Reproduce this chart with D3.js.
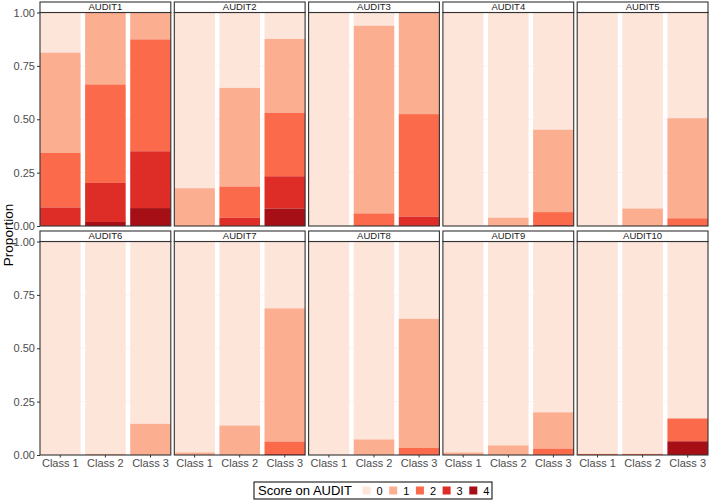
<!DOCTYPE html>
<html>
<head>
<meta charset="utf-8">
<script src="https://cdn.jsdelivr.net/npm/d3@7"></script>
<style>
  html, body { margin: 0; padding: 0; background: #fff; }
  svg { display: block; font-family: "Liberation Sans", Arial, sans-serif; }
</style>
</head>
<body>
<svg id="chart" width="709" height="502"></svg>
<script>
// ---- data ----
const items = ["AUDIT1","AUDIT2","AUDIT3","AUDIT4","AUDIT5","AUDIT6","AUDIT7","AUDIT8","AUDIT9","AUDIT10"];
const classes = ["Class 1","Class 2","Class 3"];
const scores = ["0","1","2","3","4"];
const scoreColors = ["#fee5d9","#fcae91","#fb6a4a","#de2d26","#a50f15"];
const yTicks = [0, 0.25, 0.5, 0.75, 1];
// proportions of scores 0..4 for Class 1, Class 2, Class 3
const audit1  = [[0.188,0.470,0.255,0.087,0.000],[0.000,0.337,0.461,0.183,0.019],[0.000,0.126,0.524,0.266,0.084]];
const audit2  = [[0.823,0.177,0.000,0.000,0.000],[0.353,0.462,0.146,0.039,0.000],[0.124,0.346,0.297,0.151,0.082]];
const audit3  = [[1.000,0.000,0.000,0.000,0.000],[0.062,0.879,0.059,0.000,0.000],[0.000,0.476,0.480,0.044,0.000]];
const audit4  = [[1.000,0.000,0.000,0.000,0.000],[0.961,0.039,0.000,0.000,0.000],[0.549,0.386,0.060,0.005,0.000]];
const audit5  = [[1.000,0.000,0.000,0.000,0.000],[0.918,0.082,0.000,0.000,0.000],[0.495,0.469,0.036,0.000,0.000]];
const audit6  = [[1.000,0.000,0.000,0.000,0.000],[0.995,0.005,0.000,0.000,0.000],[0.854,0.146,0.000,0.000,0.000]];
const audit7  = [[0.988,0.012,0.000,0.000,0.000],[0.862,0.138,0.000,0.000,0.000],[0.313,0.624,0.058,0.005,0.000]];
const audit8  = [[1.000,0.000,0.000,0.000,0.000],[0.927,0.073,0.000,0.000,0.000],[0.362,0.604,0.034,0.000,0.000]];
const audit9  = [[0.988,0.012,0.000,0.000,0.000],[0.955,0.045,0.000,0.000,0.000],[0.800,0.170,0.030,0.000,0.000]];
const audit10 = [[0.995,0.000,0.005,0.000,0.000],[0.995,0.000,0.005,0.000,0.000],[0.829,0.000,0.107,0.000,0.064]];
const itemData = [audit1,audit2,audit3,audit4,audit5,audit6,audit7,audit8,audit9,audit10];

// ---- layout ----
const svg = d3.select("#chart");
const left = 40, right = 708, colGap = 3.5, nCols = 5;
const panelW = (right - left - colGap * (nCols - 1)) / nCols;
const stripH = 10.5, plotH = 213.5;
const rowTops = [2, 231];

const x = d3.scaleBand().domain(classes).range([0, panelW]).paddingInner(0.1).paddingOuter(0);
const y = d3.scaleLinear().domain([0, 1]).range([plotH, 0]);
const color = d3.scaleOrdinal().domain(scores).range(scoreColors);
const stack = d3.stack().keys(scores.map((s, i) => i)).order(d3.stackOrderReverse);

items.forEach((item, idx) => {
  const col = idx % nCols, row = Math.floor(idx / nCols);
  const px = left + col * (panelW + colGap);
  const stripTop = rowTops[row];
  const plotTop = stripTop + stripH;
  const g = svg.append("g").attr("transform", `translate(${px},${plotTop})`);

  // grid
  g.selectAll("line.grid").data(yTicks).join("line")
    .attr("x1", 0).attr("x2", panelW)
    .attr("y1", d => y(d)).attr("y2", d => y(d))
    .attr("stroke", "#ebebeb").attr("stroke-width", 0.5);

  // bars
  const rows = classes.map((c, ci) => {
    const o = { cls: c };
    itemData[idx][ci].forEach((v, si) => o[si] = v);
    return o;
  });
  const series = stack(rows);
  series.forEach(s => {
    g.append("g").attr("fill", color(scores[s.key]))
      .selectAll("rect").data(s).join("rect")
      .attr("x", d => x(d.data.cls))
      .attr("width", x.bandwidth())
      .attr("y", d => y(d[1]))
      .attr("height", d => Math.max(0, y(d[0]) - y(d[1])));
  });

  // panel border
  g.append("rect").attr("x", 0).attr("y", 0).attr("width", panelW).attr("height", plotH)
    .attr("fill", "none").attr("stroke", "#333").attr("stroke-width", 1.1);

  // strip
  const sg = svg.append("g").attr("transform", `translate(${px},${stripTop})`);
  sg.append("rect").attr("width", panelW).attr("height", stripH)
    .attr("fill", "#fff").attr("stroke", "#333").attr("stroke-width", 1.1);
  sg.append("text").attr("x", panelW / 2).attr("y", stripH / 2 + 0.5)
    .attr("text-anchor", "middle").attr("dominant-baseline", "middle")
    .attr("font-size", 9.5).attr("fill", "#1a1a1a").text(item);

  // y axis
  if (col === 0) {
    const ya = g.append("g").call(d3.axisLeft(y).tickValues(yTicks).tickFormat(d3.format(".2f")).tickSize(3).tickPadding(2));
    ya.select(".domain").remove();
    ya.selectAll("line").attr("stroke", "#333");
    ya.selectAll("text").attr("font-size", 11).attr("fill", "#4d4d4d").attr("font-family", "Liberation Sans, Arial, sans-serif");
  }
  // x axis
  if (row === 1) {
    const xa = g.append("g").attr("transform", `translate(0,${plotH})`)
      .call(d3.axisBottom(x).tickSize(2.5).tickPadding(1.5));
    xa.select(".domain").remove();
    xa.selectAll("line").attr("stroke", "#333");
    xa.selectAll("text").attr("font-size", 11).attr("fill", "#4d4d4d").attr("font-family", "Liberation Sans, Arial, sans-serif");
  }
});

// y title
svg.append("text").attr("transform", "translate(12.5,235) rotate(-90)")
  .attr("text-anchor", "middle").attr("font-size", 13.5).attr("fill", "#000").text("Proportion");

// legend
const lg = svg.append("g").attr("transform", "translate(254,482)");
lg.append("rect").attr("width", 238).attr("height", 17).attr("fill", "#fff").attr("stroke", "#000").attr("stroke-width", 1);
lg.append("text").attr("x", 4).attr("y", 13).attr("font-size", 13).attr("fill", "#000").text("Score on AUDIT");
scores.forEach((s, i) => {
  const kx = 108.5 + i * 26.7;
  lg.append("rect").attr("x", kx).attr("y", 4.5).attr("width", 8).attr("height", 8).attr("fill", color(s));
  lg.append("text").attr("x", kx + 14).attr("y", 12.5).attr("font-size", 11).attr("fill", "#000").text(s);
});
</script>
</body>
</html>
